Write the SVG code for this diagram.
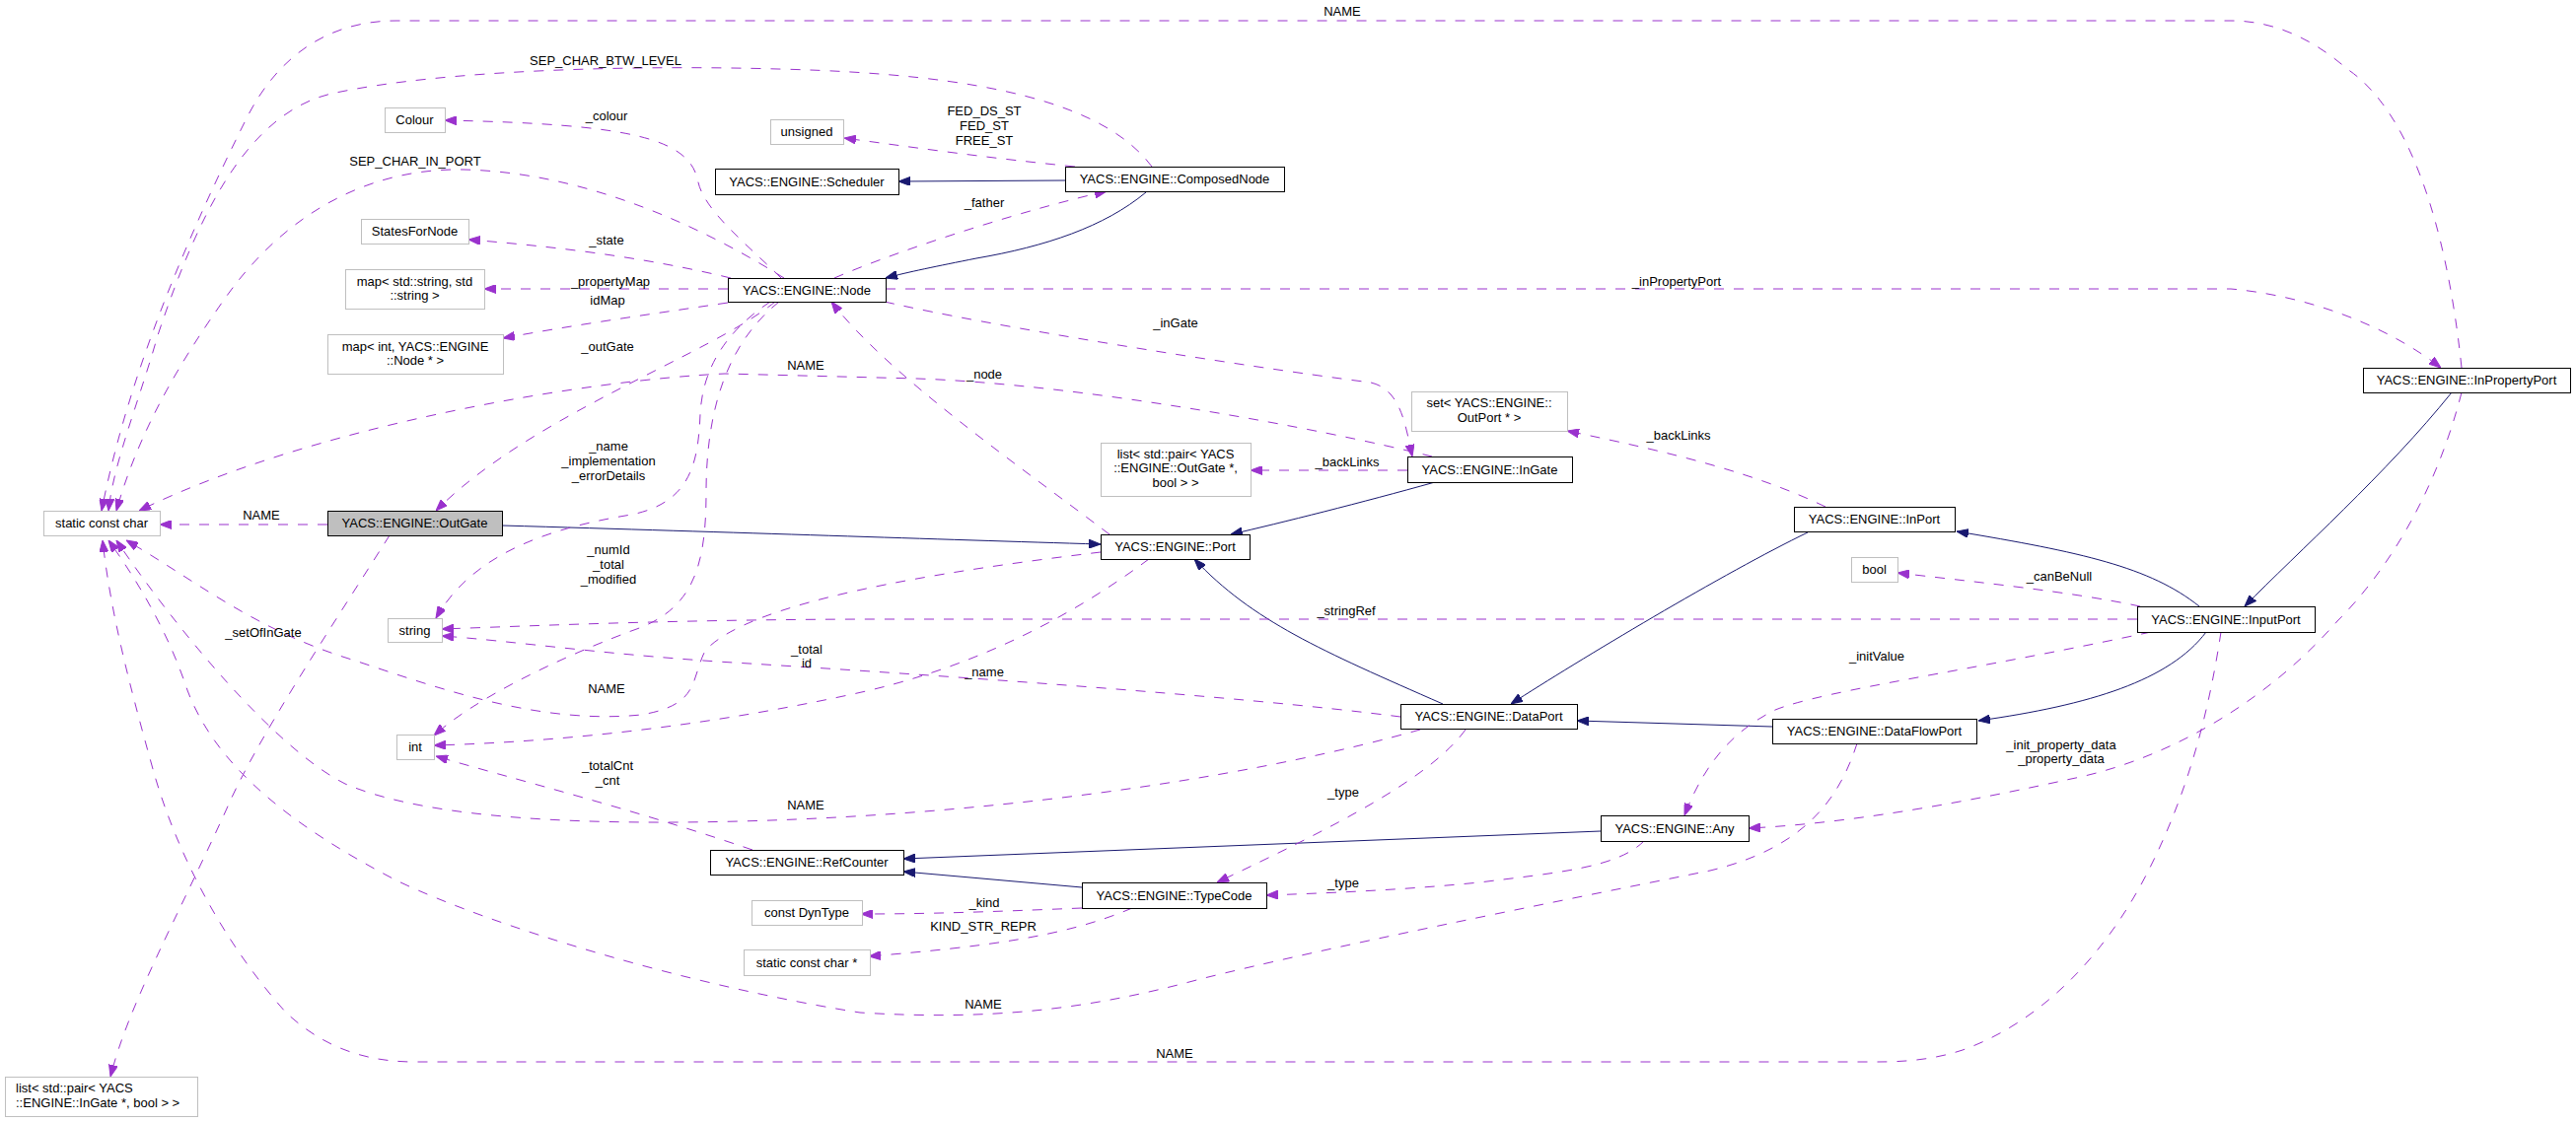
<svg xmlns="http://www.w3.org/2000/svg" width="2612" height="1138" viewBox="0 0 2612 1138">
<style>
text{font-family:"Liberation Sans",Arial,Helvetica,sans-serif;font-size:13px;fill:#000;text-anchor:middle}
rect{shape-rendering:crispEdges}
.n rect{fill:#fff;stroke:#000;stroke-width:1}
.g rect{fill:#fff;stroke:#bfbfbf;stroke-width:1}
.cur rect{fill:#bfbfbf;stroke:#000;stroke-width:1}
#edges path{fill:none;stroke-width:1}
#edges .u{stroke:#9a32cd;stroke-dasharray:10,10;marker-end:url(#ap)}
#edges .i{stroke:#191970;marker-end:url(#ai)}
</style>
<defs>
<marker id="ap" viewBox="0 0 12 9" refX="12" refY="4.5" markerWidth="12" markerHeight="9" markerUnits="userSpaceOnUse" orient="auto"><path d="M0,0L12,4.5L0,9z" fill="#9a32cd" stroke="#9a32cd"/></marker>
<marker id="ai" viewBox="0 0 12 9" refX="12" refY="4.5" markerWidth="12" markerHeight="9" markerUnits="userSpaceOnUse" orient="auto"><path d="M0,0L12,4.5L0,9z" fill="#191970" stroke="#191970"/></marker>
</defs>
<rect width="2612" height="1138" fill="#fff"/>
<g id="edges">
<path class="i" d="M509,533 C750,540 950,547 1116,552"/>
<path class="i" d="M1080,183 L911,184"/>
<path class="i" d="M1162,195 C1120,230 1060,250 990,262 C950,270 920,276 898,282"/>
<path class="i" d="M1455,489 C1380,510 1300,530 1248,542"/>
<path class="i" d="M1463,714 C1340,660 1270,630 1211,567"/>
<path class="i" d="M1833,540 C1750,580 1600,670 1532,714"/>
<path class="i" d="M2230,615 C2180,575 2110,560 1984,539"/>
<path class="i" d="M2237,641 C2200,690 2120,715 2006,731"/>
<path class="i" d="M1797,737 L1599,731"/>
<path class="i" d="M2486,398 C2420,480 2330,560 2276,615"/>
<path class="i" d="M1623,843 L916,871"/>
<path class="i" d="M1097,900 L916,884"/>
<path class="u" d="M332,532 L162,532"/>
<path class="u" d="M395,543 C340,630 260,750 230,820 C180,930 130,1020 112,1092"/>
<path class="u" d="M786,306 C720,360 540,420 442,518"/>
<path class="u" d="M781,306 C730,340 712,380 710,420 C708,470 700,510 640,522 C560,535 480,560 442,627"/>
<path class="u" d="M790,306 C735,350 716,420 716,500 C716,580 700,620 640,640 C560,670 480,710 440,746"/>
<path class="u" d="M792,282 C760,250 715,215 708,185 C700,140 640,126 451,122"/>
<path class="u" d="M741,282 C650,260 560,250 475,243"/>
<path class="u" d="M738,293 L491,293"/>
<path class="u" d="M738,307 C650,320 580,330 510,343"/>
<path class="u" d="M795,282 C720,235 600,175 470,172 C360,170 280,230 230,300 C180,370 140,440 118,518"/>
<path class="u" d="M1168,169 C1120,105 1000,75 789,70 C650,66 450,70 336,95 C250,115 200,220 160,340 C140,410 115,470 110,518"/>
<path class="u" d="M2496,373 C2480,220 2440,110 2380,70 C2340,35 2300,21 2262,21 L402,21 C330,21 280,60 250,120 C190,240 130,380 103,518"/>
<path class="u" d="M1452,463 C1340,435 1100,390 930,384 L735,379 C600,385 320,430 141,518"/>
<path class="u" d="M846,282 C920,250 1050,210 1122,194"/>
<path class="u" d="M1090,169 C1000,160 930,150 856,140"/>
<path class="u" d="M898,293 L2262,293 C2340,300 2420,330 2475,373"/>
<path class="u" d="M897,306 C1000,330 1250,370 1390,388 C1420,395 1425,430 1432,463"/>
<path class="u" d="M1125,542 C1030,470 900,380 843,306"/>
<path class="u" d="M1116,560 C950,580 760,610 715,660 C700,690 710,715 650,725 C550,735 450,700 360,670 C260,640 200,590 128,548"/>
<path class="u" d="M1165,567 C1080,630 980,680 860,705 C720,735 580,752 440,756"/>
<path class="u" d="M1420,727 C1250,705 950,685 760,673 C620,665 520,650 448,645"/>
<path class="u" d="M2167,628 L900,628 C700,628 560,634 448,638"/>
<path class="u" d="M1440,740 C1300,780 1050,825 750,833 C550,838 420,825 350,795 C280,760 180,640 118,548"/>
<path class="u" d="M1486,740 C1450,790 1350,840 1234,895"/>
<path class="u" d="M1883,754 C1865,810 1830,860 1734,883 C1550,920 1350,960 1217,993 C1100,1025 1000,1035 872,1027 C700,1000 500,940 402,893 C300,840 220,780 190,700 C170,640 140,590 110,548"/>
<path class="u" d="M2252,641 C2240,720 2220,800 2180,880 C2130,980 2060,1040 1990,1065 C1960,1075 1930,1077 1904,1077 L420,1077 C360,1077 320,1055 290,1027 C230,960 180,870 155,780 C130,690 112,620 104,548"/>
<path class="u" d="M2496,398 C2470,500 2420,580 2370,630 C2300,710 2200,770 2100,790 C2000,812 1880,835 1773,840"/>
<path class="u" d="M2181,641 C2000,680 1850,700 1800,720 C1760,740 1730,770 1708,827"/>
<path class="u" d="M2170,615 C2100,600 2000,590 1924,581"/>
<path class="u" d="M1851,514 C1780,480 1700,460 1589,437"/>
<path class="u" d="M1427,477 L1268,477"/>
<path class="u" d="M1667,853 C1640,880 1580,885 1500,895 C1420,903 1340,906 1284,908"/>
<path class="u" d="M1097,921 C1000,925 940,927 873,927"/>
<path class="u" d="M1148,921 C1080,950 1000,960 881,970"/>
<path class="u" d="M763,862 C640,820 520,790 442,767"/>
<g id="labels">
<text x="265" y="527">NAME</text>
<text x="267" y="645.5">_setOfInGate</text>
<text x="616" y="355.5">_outGate</text>
<text x="617" y="457">_name</text><text x="617" y="472">_implementation</text><text x="617" y="487">_errorDetails</text>
<text x="617" y="561.5">_numId</text><text x="617" y="576.5">_total</text><text x="617" y="591.5">_modified</text>
<text x="615" y="702.5">NAME</text>
<text x="616" y="780.5">_totalCnt</text><text x="616" y="795.5">_cnt</text>
<text x="817" y="820.5">NAME</text>
<text x="614" y="65.5">SEP_CHAR_BTW_LEVEL</text>
<text x="421" y="167.5">SEP_CHAR_IN_PORT</text>
<text x="615" y="121.5">_colour</text>
<text x="615" y="247.5">_state</text>
<text x="619" y="289.5">_propertyMap</text>
<text x="616" y="308.5">idMap</text>
<text x="817" y="374.5">NAME</text>
<text x="1361" y="15.5">NAME</text>
<text x="998" y="116.5">FED_DS_ST</text><text x="998" y="131.5">FED_ST</text><text x="998" y="146.5">FREE_ST</text>
<text x="998" y="209.5">_father</text>
<text x="1192" y="331.5">_inGate</text>
<text x="998" y="383.5">_node</text>
<text x="1700" y="289.5">_inPropertyPort</text>
<text x="1366" y="472.5">_backLinks</text>
<text x="1702" y="445.5">_backLinks</text>
<text x="1365" y="623.5">_stringRef</text>
<text x="818" y="662.5">_total</text><text x="818" y="676.5">id</text>
<text x="998" y="685.5">_name</text>
<text x="2088" y="588.5">_canBeNull</text>
<text x="1903" y="669.5">_initValue</text>
<text x="2090" y="759.5">_init_property_data</text><text x="2090" y="773.5">_property_data</text>
<text x="1362" y="807.5">_type</text>
<text x="1362" y="899.5">_type</text>
<text x="998" y="919.5">_kind</text>
<text x="997" y="943.5">KIND_STR_REPR</text>
<text x="997" y="1022.5">NAME</text>
<text x="1191" y="1072.5">NAME</text>
</g>
</g>
<g id="n_scc" class="g"><rect x="44" y="518" width="118" height="25"/><text x="103" y="535">static const char</text></g>
<g id="n_outgate" class="cur"><rect x="332" y="518" width="177" height="25"/><text x="420.5" y="535">YACS::ENGINE::OutGate</text></g>
<g id="n_listingate" class="g"><rect x="5" y="1092" width="195" height="40"/><text x="16" y="1108" style="text-anchor:start">list&lt; std::pair&lt; YACS</text><text x="16" y="1123" style="text-anchor:start">::ENGINE::InGate *, bool &gt; &gt;</text></g>
<g id="n_node" class="n"><rect x="738" y="282" width="160" height="24"/><text x="818" y="298.5">YACS::ENGINE::Node</text></g>
<g id="n_string" class="g"><rect x="393" y="627" width="55" height="24"/><text x="420.5" y="643.5">string</text></g>
<g id="n_int" class="g"><rect x="402" y="745" width="38" height="25"/><text x="421" y="762">int</text></g>
<g id="n_colour" class="g"><rect x="390" y="109" width="61" height="25"/><text x="420.5" y="126">Colour</text></g>
<g id="n_states" class="g"><rect x="366" y="222" width="109" height="25"/><text x="420.5" y="239">StatesForNode</text></g>
<g id="n_mapstr" class="g"><rect x="350" y="273" width="141" height="40"/><text x="420.5" y="289.5">map&lt; std::string, std</text><text x="420.5" y="304">::string &gt;</text></g>
<g id="n_mapint" class="g"><rect x="332" y="339" width="178" height="40"/><text x="421" y="355.5">map&lt; int, YACS::ENGINE</text><text x="421" y="369.5">::Node * &gt;</text></g>
<g id="n_unsigned" class="g"><rect x="781" y="121" width="74" height="25"/><text x="818" y="138">unsigned</text></g>
<g id="n_scheduler" class="n"><rect x="725" y="171" width="186" height="26"/><text x="818" y="188.5">YACS::ENGINE::Scheduler</text></g>
<g id="n_composed" class="n"><rect x="1080" y="169" width="222" height="25"/><text x="1191" y="186">YACS::ENGINE::ComposedNode</text></g>
<g id="n_refcounter" class="n"><rect x="720" y="862" width="196" height="25"/><text x="818" y="879">YACS::ENGINE::RefCounter</text></g>
<g id="n_dyntype" class="g"><rect x="762" y="913" width="112" height="25"/><text x="818" y="930">const DynType</text></g>
<g id="n_sccptr" class="g"><rect x="754" y="963" width="128" height="26"/><text x="818" y="980.5">static const char *</text></g>
<g id="n_typecode" class="n"><rect x="1097" y="895" width="187" height="26"/><text x="1190.5" y="912.5">YACS::ENGINE::TypeCode</text></g>
<g id="n_port" class="n"><rect x="1116" y="542" width="151" height="25"/><text x="1191.5" y="559">YACS::ENGINE::Port</text></g>
<g id="n_listoutgate" class="g"><rect x="1116" y="449" width="152" height="54"/><text x="1192" y="464.5">list&lt; std::pair&lt; YACS</text><text x="1192" y="479">::ENGINE::OutGate *,</text><text x="1192" y="493.5">bool &gt; &gt;</text></g>
<g id="n_ingate" class="n"><rect x="1427" y="463" width="167" height="26"/><text x="1510.5" y="480.5">YACS::ENGINE::InGate</text></g>
<g id="n_setoutport" class="g"><rect x="1431" y="397" width="158" height="40"/><text x="1510" y="412.5">set&lt; YACS::ENGINE::</text><text x="1510" y="427.5">OutPort * &gt;</text></g>
<g id="n_dataport" class="n"><rect x="1420" y="714" width="179" height="25"/><text x="1509.5" y="731">YACS::ENGINE::DataPort</text></g>
<g id="n_inport" class="n"><rect x="1819" y="514" width="163" height="25"/><text x="1900.5" y="531">YACS::ENGINE::InPort</text></g>
<g id="n_bool" class="g"><rect x="1877" y="565" width="47" height="25"/><text x="1900.5" y="582">bool</text></g>
<g id="n_inputport" class="n"><rect x="2167" y="615" width="180" height="26"/><text x="2257" y="632.5">YACS::ENGINE::InputPort</text></g>
<g id="n_dataflowport" class="n"><rect x="1797" y="729" width="207" height="25"/><text x="1900.5" y="746">YACS::ENGINE::DataFlowPort</text></g>
<g id="n_any" class="n"><rect x="1623" y="827" width="150" height="26"/><text x="1698" y="844.5">YACS::ENGINE::Any</text></g>
<g id="n_inpropertyport" class="n"><rect x="2396" y="373" width="210" height="25"/><text x="2501" y="390">YACS::ENGINE::InPropertyPort</text></g>
</svg>
